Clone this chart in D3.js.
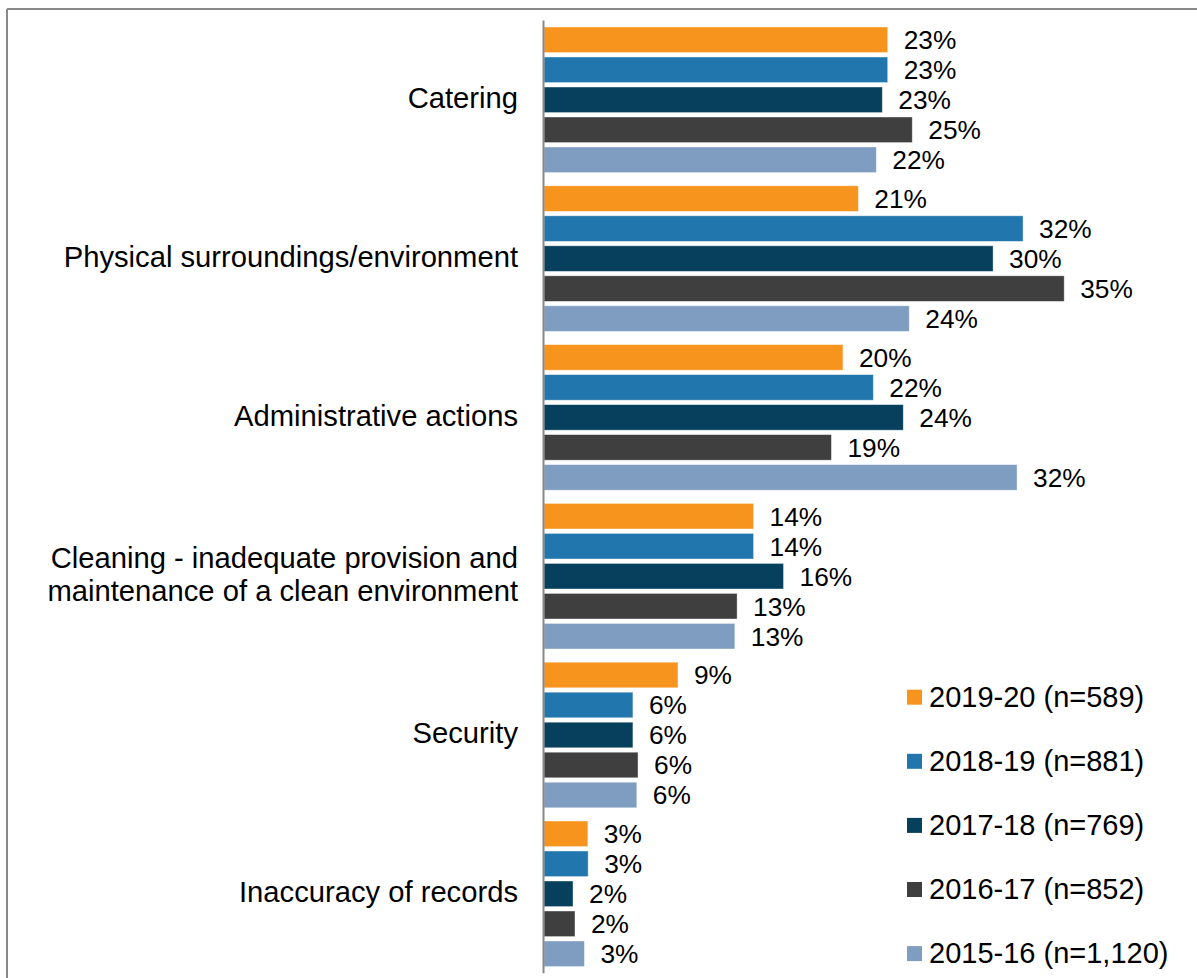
<!DOCTYPE html>
<html>
<head>
<meta charset="utf-8">
<script src="https://cdn.jsdelivr.net/npm/d3@7"></script>
<style>
  html, body { margin: 0; padding: 0; background: #fff; }
  svg { display: block; font-family: "Liberation Sans", Arial, sans-serif; }
</style>
</head>
<body>
<svg id="chart" width="1197" height="978"></svg>
<script>
// ---- Data ----
const categories = [
  "Catering",
  "Physical surroundings/environment",
  "Administrative actions",
  "Cleaning - inadequate provision and|maintenance of a clean environment",
  "Security",
  "Inaccuracy of records"
];
const seriesNames = [
  "2019-20 (n=589)",
  "2018-19 (n=881)",
  "2017-18 (n=769)",
  "2016-17 (n=852)",
  "2015-16 (n=1,120)"
];
const s2019_20 = [22.96, 21.0, 19.97, 14.0, 8.95, 2.93];
const s2018_19 = [22.96, 32.0, 22.0, 14.0, 5.94, 2.95];
const s2017_18 = [22.6, 30.0, 24.0, 16.0, 5.94, 1.94];
const s2016_17 = [24.6, 34.75, 19.2, 12.9, 6.28, 2.07];
const s2015_16 = [22.2, 24.4, 31.6, 12.75, 6.2, 2.7];
const seriesValues = [s2019_20, s2018_19, s2017_18, s2016_17, s2015_16];
const colors = ["#F7941E", "#2177AD", "#07405D", "#3F3F3F", "#7F9CC1"];

// ---- Layout ----
const svg = d3.select("#chart");
const axisX = 544;
const y0 = 20.4, y1 = 973.2;

const x = d3.scaleLinear().domain([0, 40]).range([axisX, axisX + 14.97 * 40]);
const y = d3.scaleBand().domain(d3.range(categories.length)).range([y0, y1]).paddingInner(0).paddingOuter(0);
const ys = d3.scaleBand().domain(d3.range(seriesNames.length)).range([0, y.bandwidth()])
  .paddingInner(0.1467).paddingOuter(0.22);

// frame (top and left edges)
svg.append("line").attr("x1", 7).attr("x2", 1197).attr("y1", 9).attr("y2", 9)
  .attr("stroke", "#8a8a8a").attr("stroke-width", 2);
svg.append("line").attr("x1", 7).attr("x2", 7).attr("y1", 9).attr("y2", 978)
  .attr("stroke", "#8a8a8a").attr("stroke-width", 2);

// bars
const data = [];
categories.forEach((c, ci) => {
  seriesValues.forEach((vals, si) => data.push({ ci, si, v: vals[ci] }));
});

svg.append("g").selectAll("rect").data(data).join("rect")
  .attr("x", x(0))
  .attr("y", d => y(d.ci) + ys(d.si))
  .attr("width", d => x(d.v) - x(0))
  .attr("height", ys.bandwidth())
  .attr("fill", d => colors[d.si])
  .attr("stroke", "#ffffff").attr("stroke-opacity", 0.5).attr("stroke-width", 0.8);

// data labels
svg.append("g").selectAll("text").data(data).join("text")
  .attr("x", d => x(d.v) + 16)
  .attr("y", d => y(d.ci) + ys(d.si) + ys.bandwidth() / 2)
  .attr("dy", "0.36em")
  .attr("font-size", 26.3)
  .attr("fill", "#000")
  .text(d => d3.format(".0f")(d.v) + "%");

// vertical axis line
svg.append("line").attr("x1", axisX - 0.5).attr("x2", axisX - 0.5).attr("y1", y0).attr("y2", y1)
  .attr("stroke", "#898989").attr("stroke-width", 2);

// category labels
const catG = svg.append("g");
categories.forEach((c, ci) => {
  const lines = c.split("|");
  const cy = y(ci) + y.bandwidth() / 2;
  const lh = 32.4;
  const t = catG.append("text")
    .attr("text-anchor", "end")
    .attr("font-size", 29.2)
    .attr("fill", "#000");
  lines.forEach((ln, li) => {
    t.append("tspan")
      .attr("x", 518)
      .attr("y", cy + (li - (lines.length - 1) / 2) * lh + 8.4)
      .text(ln);
  });
});

// legend
const lg = svg.append("g");
seriesNames.forEach((name, si) => {
  const base = 707 + si * 64.1;
  lg.append("rect").attr("x", 907).attr("y", base - 9.8 - 7.5).attr("width", 15).attr("height", 15)
    .attr("fill", colors[si]);
  lg.append("text").attr("x", 929).attr("y", base).attr("font-size", 29).attr("fill", "#000").text(name);
});
</script>
</body>
</html>
